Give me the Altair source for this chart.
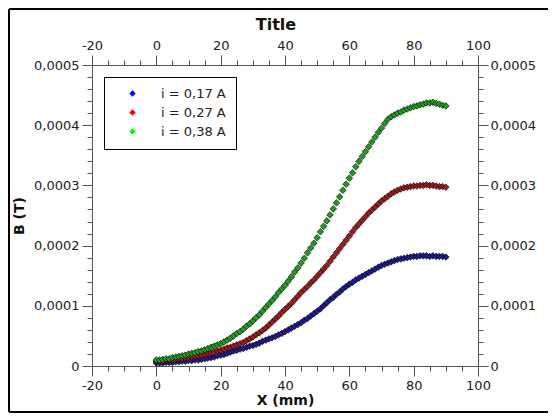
import altair as alt
import pandas as pd

# ---------------- data ----------------
x_mm = list(range(0, 91))

# B values in units of 1e-4 T
b_017 = [0.05, 0.05, 0.05, 0.06, 0.06, 0.06, 0.07, 0.07, 0.08, 0.08,
         0.09, 0.09, 0.10, 0.10, 0.11, 0.12, 0.13, 0.14, 0.15, 0.17,
         0.18, 0.19, 0.21, 0.23, 0.25, 0.26, 0.28, 0.29, 0.31, 0.33,
         0.34, 0.36, 0.38, 0.41, 0.43, 0.45, 0.47, 0.49, 0.52, 0.54,
         0.57, 0.60, 0.63, 0.66, 0.69, 0.72, 0.76, 0.79, 0.83, 0.87,
         0.91, 0.95, 1.00, 1.05, 1.10, 1.14, 1.19, 1.23, 1.28, 1.32,
         1.36, 1.39, 1.43, 1.46, 1.49, 1.52, 1.55, 1.58, 1.61, 1.64,
         1.67, 1.69, 1.71, 1.73, 1.75, 1.77, 1.78, 1.79, 1.80, 1.81,
         1.82, 1.82, 1.83, 1.83, 1.83, 1.82, 1.83, 1.82, 1.82, 1.82,
         1.81]

b_027 = [0.08, 0.08, 0.09, 0.09, 0.10, 0.10, 0.11, 0.12, 0.12, 0.13,
         0.14, 0.15, 0.16, 0.17, 0.18, 0.19, 0.21, 0.22, 0.23, 0.25,
         0.26, 0.28, 0.30, 0.31, 0.33, 0.35, 0.37, 0.39, 0.42, 0.45,
         0.48, 0.52, 0.55, 0.59, 0.63, 0.68, 0.73, 0.78, 0.83, 0.89,
         0.94, 0.99, 1.04, 1.10, 1.16, 1.22, 1.27, 1.32, 1.38, 1.43,
         1.49, 1.55, 1.61, 1.67, 1.74, 1.81, 1.88, 1.95, 2.02, 2.09,
         2.16, 2.23, 2.30, 2.36, 2.42, 2.48, 2.54, 2.59, 2.64, 2.69,
         2.74, 2.78, 2.82, 2.86, 2.89, 2.92, 2.94, 2.96, 2.97, 2.98,
         2.99, 2.99, 3.00, 3.00, 3.01, 3.00, 3.00, 2.99, 2.98, 2.98,
         2.97]

b_038 = [0.10, 0.10, 0.11, 0.12, 0.12, 0.14, 0.15, 0.16, 0.17, 0.18,
         0.20, 0.21, 0.22, 0.24, 0.25, 0.27, 0.29, 0.31, 0.33, 0.35,
         0.37, 0.40, 0.43, 0.46, 0.50, 0.54, 0.57, 0.61, 0.66, 0.70,
         0.75, 0.80, 0.85, 0.91, 0.97, 1.03, 1.09, 1.15, 1.22, 1.28,
         1.34, 1.41, 1.48, 1.56, 1.63, 1.71, 1.79, 1.88, 1.96, 2.04,
         2.13, 2.23, 2.32, 2.41, 2.51, 2.61, 2.71, 2.81, 2.92, 3.02,
         3.12, 3.21, 3.31, 3.40, 3.48, 3.56, 3.64, 3.72, 3.80, 3.88,
         3.95, 4.03, 4.10, 4.14, 4.17, 4.20, 4.22, 4.25, 4.27, 4.29,
         4.31, 4.32, 4.34, 4.35, 4.37, 4.37, 4.38, 4.36, 4.35, 4.33,
         4.32]

series_names = ["i = 0,17 A", "i = 0,27 A", "i = 0,38 A"]
legend_colors = ["#0000ff", "#ff0000", "#00ff00"]
marker_colors = ["#1c1c8c", "#9a1c1c", "#229a22"]

x_major = [-20, 0, 20, 40, 60, 80, 100]
x_minor = list(range(-20, 101, 5))
y_major = [0, 0.0001, 0.0002, 0.0003, 0.0004, 0.0005]
y_minor = [round(k * 0.00002, 6) for k in range(26)]

rows = []
for name, vals in zip(series_names, [b_017, b_027, b_038]):
    for xv, bv in zip(x_mm, vals):
        rows.append({"x": xv, "B": bv * 1e-4, "serie": name})
df = pd.DataFrame(rows)
dummy = pd.DataFrame({"x": [0], "B": [0]})
legend_df = pd.DataFrame({"x": [0, 0, 0], "B": [0, 0, 0], "serie": series_names})

# ---------------- styling ----------------
FONT = "DejaVu Sans"
xs = alt.Scale(domain=[-20, 100], nice=False, zero=False)
ys = alt.Scale(domain=[0, 0.0005], nice=False, zero=False)
x_lab = "'' + datum.value"
y_lab = "replace(format(datum.value, '.4~f'), '.', ',')"

lab = dict(domain=False, grid=False, tickColor="#555555", tickWidth=1,
           labelFont=FONT, labelFontSize=13, labelColor="#222222",
           labelOverlap=False, labelFlush=False)
ttl = dict(titleFont=FONT, titleFontSize=14, titleFontWeight="bold",
           titleColor="#111111")
minor = dict(labels=False, title=None, domain=False, grid=False,
             tickColor="#555555", tickSize=5)

points = alt.Chart(df).mark_point(
    shape="diamond", filled=True, size=44, stroke="black",
    strokeWidth=0.6, opacity=1
).encode(
    x=alt.X("x:Q", scale=xs, axis=alt.Axis(
        orient="bottom", values=x_major, tickSize=10, labelPadding=3,
        labelExpr=x_lab, title="X (mm)", titlePadding=1, **lab, **ttl)),
    y=alt.Y("B:Q", scale=ys, axis=alt.Axis(
        orient="left", values=y_major, tickSize=10, labelPadding=3,
        labelExpr=y_lab, title="B (T)", titlePadding=7, **lab, **ttl)),
    color=alt.Color("serie:N", scale=alt.Scale(domain=series_names,
                                                range=marker_colors),
                    legend=None),
)

legend_layer = alt.Chart(legend_df).mark_point(
    shape="diamond", filled=True, opacity=0
).encode(
    x=alt.X("x:Q", scale=xs, axis=None),
    y=alt.Y("B:Q", scale=ys, axis=None),
    fill=alt.Fill("serie:N", scale=alt.Scale(domain=series_names,
                                              range=legend_colors),
                  legend=alt.Legend(orient="none", legendX=12, legendY=12,
                                    title=None, symbolOpacity=1)),
)

top_right = alt.Chart(dummy).mark_point(opacity=0).encode(
    x=alt.X("x:Q", scale=xs, axis=alt.Axis(
        orient="top", values=x_major, tickSize=10, labelPadding=3,
        labelExpr=x_lab, title=None, **lab)),
    y=alt.Y("B:Q", scale=ys, axis=alt.Axis(
        orient="right", values=y_major, tickSize=10, labelPadding=2,
        labelExpr=y_lab, title=None, **lab)),
)

minor_bl = alt.Chart(dummy).mark_point(opacity=0).encode(
    x=alt.X("x:Q", scale=xs, axis=alt.Axis(orient="bottom", values=x_minor, **minor)),
    y=alt.Y("B:Q", scale=ys, axis=alt.Axis(orient="left", values=y_minor, **minor)),
)

minor_tr = alt.Chart(dummy).mark_point(opacity=0).encode(
    x=alt.X("x:Q", scale=xs, axis=alt.Axis(orient="top", values=x_minor, **minor)),
    y=alt.Y("B:Q", scale=ys, axis=alt.Axis(orient="right", values=y_minor, **minor)),
)

title_text = alt.Chart(pd.DataFrame({"t": ["Title"]})).mark_text(
    font=FONT, fontSize=16, fontWeight="bold", color="#111111",
    align="center", baseline="alphabetic"
).encode(text="t:N", x=alt.value(184), y=alt.value(-35))

# decorative figure frame (left, top and bottom edges only)
fr = pd.DataFrame({"k": [0]})
frame_left = alt.Chart(fr).mark_rule(color="black", strokeWidth=2, clip=False).encode(
    x=alt.value(-83), y=alt.value(-56), y2=alt.value(347))
frame_top = alt.Chart(fr).mark_rule(color="black", strokeWidth=2, clip=False).encode(
    x=alt.value(-83), x2=alt.value(470), y=alt.value(-56))
frame_bottom = alt.Chart(fr).mark_rule(color="black", strokeWidth=2, clip=False).encode(
    x=alt.value(-83), x2=alt.value(470), y=alt.value(347))

chart = alt.layer(
    frame_left, frame_top, frame_bottom, points, legend_layer,
    top_right, minor_bl, minor_tr, title_text
).resolve_axis(
    x="independent", y="independent"
).resolve_scale(
    color="independent", fill="independent"
).properties(
    width=386, height=301,
    autosize=alt.AutoSizeParams(type="none"),
    padding={"left": 84, "top": 57, "right": 70, "bottom": 48},
).configure_view(
    stroke="#555555", strokeWidth=1
).configure_legend(
    strokeColor="black", strokeWidth=1, padding=10, fillColor="white",
    symbolType="diamond", symbolSize=40, symbolStrokeWidth=0,
    symbolOffset=12, labelOffset=22, rowPadding=5,
    labelFont=FONT, labelFontSize=13, labelColor="#222222",
)

chart.save("out.html", embed_options={"renderer": "svg", "actions": False})
